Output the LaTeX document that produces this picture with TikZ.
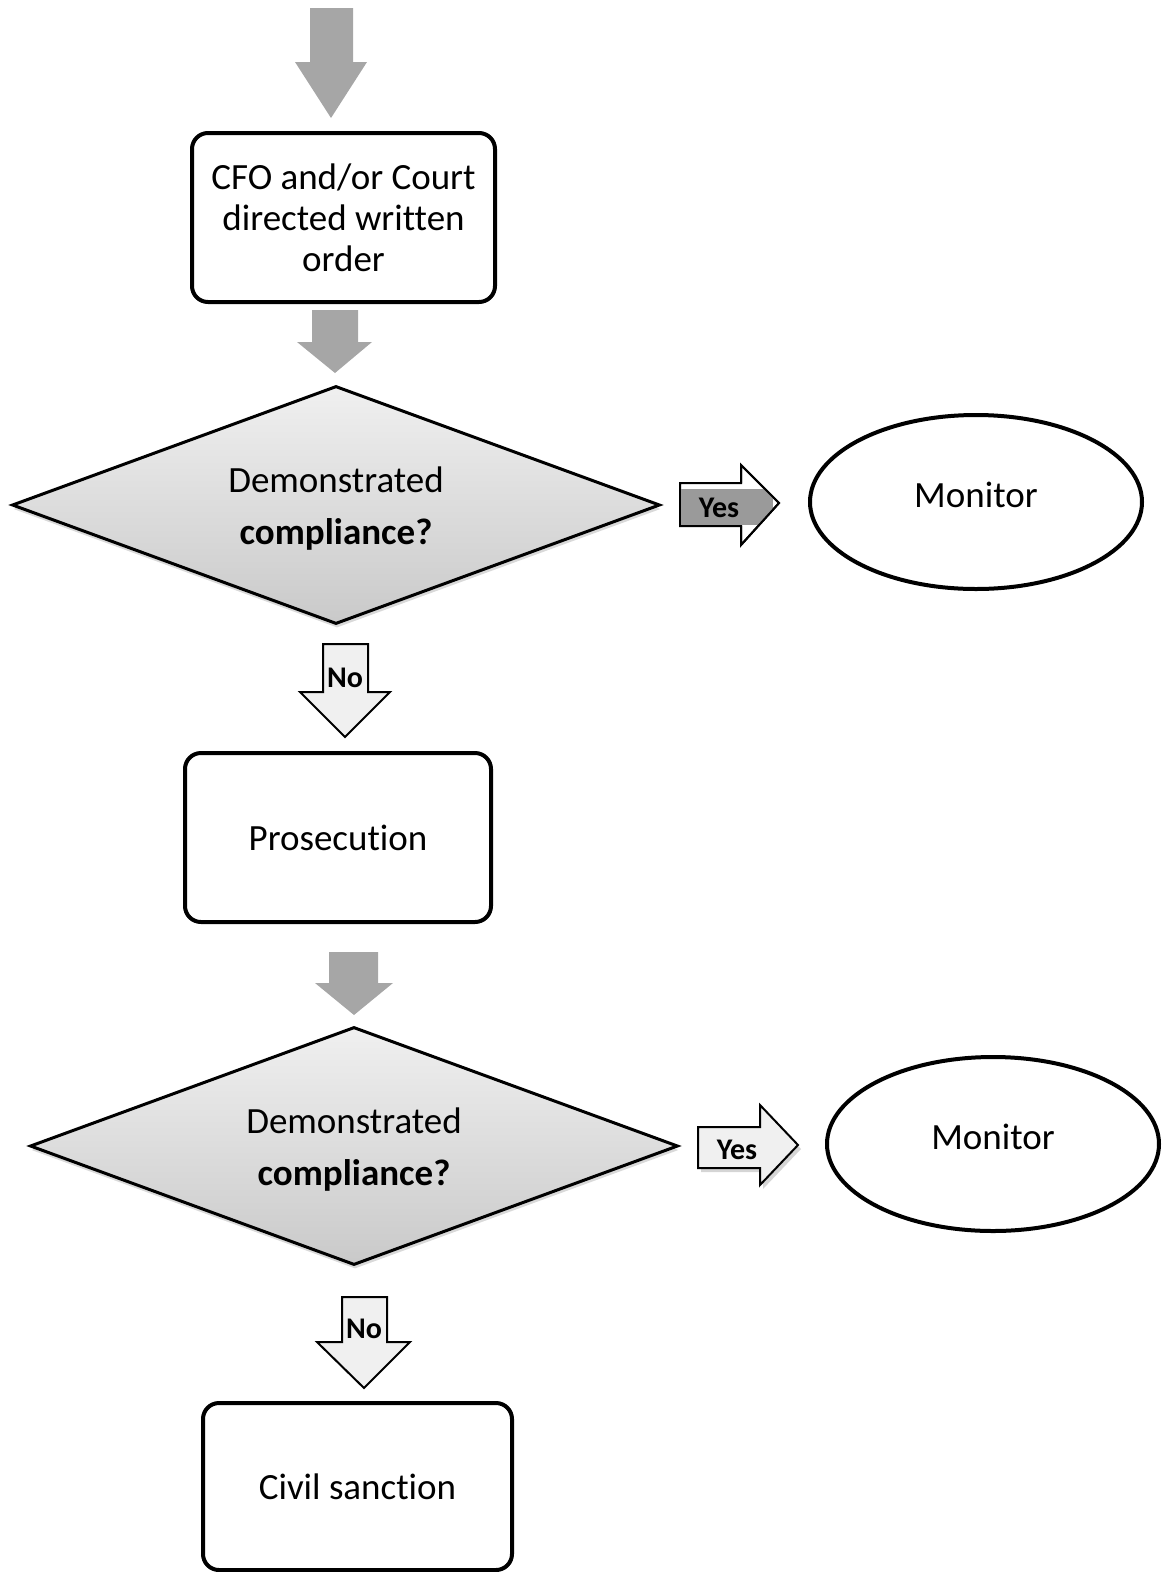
\documentclass[tikz,border=0pt]{standalone}
\usepackage{fontspec}
\setmainfont{Carlito}[Ligatures=NoCommon]
\usetikzlibrary{shapes.geometric,shadows}
\definecolor{arrowgray}{HTML}{A6A6A6}
\definecolor{lightfill}{HTML}{F0F0F0}
\definecolor{labelgray}{HTML}{9A9A9A}
\begin{document}
\begin{tikzpicture}[x=1pt,y=-1pt,
  box/.style={draw, line width=4pt, rounded corners=16pt, fill=white, align=center,
    inner sep=0pt, font=\fontsize{37}{41}\selectfont},
  decision/.style={diamond, draw, line width=3pt, aspect=2.72, inner sep=0pt,
    top color=gray!12, bottom color=gray!42,
    drop shadow={opacity=0.3, shadow xshift=1pt, shadow yshift=-4pt}},
  endell/.style={ellipse, draw, line width=4pt, inner sep=0pt, fill=white},
  txt/.style={inner sep=0pt, align=center, font=\fontsize{37}{41}\selectfont},
  flowarrow/.style={fill=arrowgray, draw=none},
  choicearrow/.style={fill=lightfill, draw=black, line width=2pt, line join=miter},
  choicelabel/.style={inner sep=0pt, font=\fontsize{30}{32}\selectfont\bfseries},
]
\useasboundingbox (0,0) rectangle (1168,1572);

% nodes
\node[box, minimum width=303, minimum height=169] (order) at (343.5,217.5)
  {CFO and/or Court\\directed written\\order};
\node[decision, minimum width=648, minimum height=238] (dec1) at (336,505) {};
\node[txt] (dec1t) at (336,509) {Demonstrated\\[11pt]\textbf{compliance?}};
\node[endell, minimum width=332, minimum height=174] (mon1) at (976,502) {};
\node[txt] (mon1t) at (976,495) {Monitor};
\node[box, minimum width=306, minimum height=169] (pros) at (338,837.5) {Prosecution};
\node[decision, minimum width=648, minimum height=238] (dec2) at (354,1146) {};
\node[txt] (dec2t) at (354,1150) {Demonstrated\\[11pt]\textbf{compliance?}};
\node[endell, minimum width=332, minimum height=174] (mon2) at (993,1144) {};
\node[txt] (mon2t) at (993,1137) {Monitor};
\node[box, minimum width=309, minimum height=167] (civil) at (357.5,1486.5) {Civil sanction};

% gray flow arrows
\coordinate (start) at (331,8);
\fill[flowarrow] (310,8) -- (353,8) -- (353,62) -- (367,62) -- (331,118) -- (295,62) -- (310,62) -- cycle;
\fill[flowarrow] (312,310) -- (358,310) -- (358,342) -- (372,342) -- (335,373) -- (297,342) -- (312,342) -- cycle;
\fill[flowarrow] (329,952) -- (378,952) -- (378,983) -- (393,983) -- (354,1015) -- (315,983) -- (329,983) -- cycle;

% Yes arrow 1
\draw[choicearrow, fill=white] (680,483) -- (741,483) -- (741,465) -- (779,503) -- (741,545) -- (741,526) -- (680,526) -- cycle;
\begin{scope}
  \clip (680,483) -- (741,483) -- (741,465) -- (779,503) -- (741,545) -- (741,526) -- (680,526) -- cycle;
  \fill[labelgray] (681,489) rectangle (773,525);
\end{scope}
\draw[line width=2pt, line join=miter] (741,483) -- (741,465) -- (779,503) -- (741,545) -- (741,526);
\node[choicelabel] (yes1) at (719,508) {Yes};

% No arrow 1
\draw[choicearrow] (323,644) -- (368,644) -- (368,692) -- (390,692) -- (345,737) -- (300,692) -- (323,692) -- cycle;
\node[choicelabel] (no1) at (345,678) {No};

% Yes arrow 2
\fill[gray!55, opacity=0.6] (701,1131) -- (763,1131) -- (763,1110) -- (801,1149) -- (763,1189) -- (763,1172) -- (701,1172) -- cycle;
\draw[choicearrow] (698,1127) -- (760,1127) -- (760,1105) -- (798,1145) -- (760,1185) -- (760,1168) -- (698,1168) -- cycle;
\node[choicelabel] (yes2) at (737,1150) {Yes};

% No arrow 2
\draw[choicearrow] (342,1297) -- (387,1297) -- (387,1342) -- (410,1342) -- (364,1388) -- (317,1342) -- (342,1342) -- cycle;
\node[choicelabel] (no2) at (364,1329) {No};
\end{tikzpicture}
\end{document}
